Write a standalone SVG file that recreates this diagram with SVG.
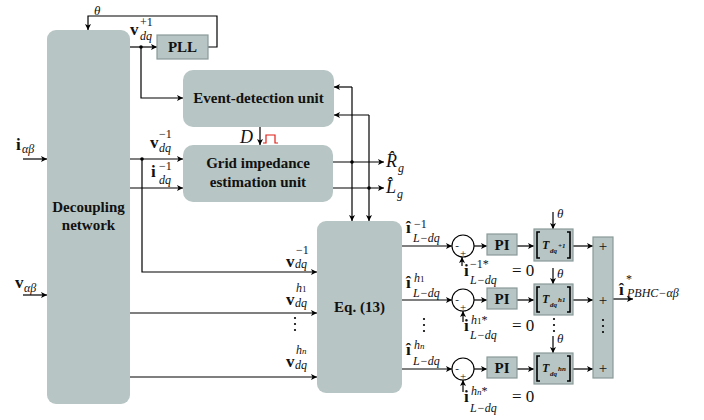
<svg xmlns="http://www.w3.org/2000/svg" width="704" height="420" viewBox="0 0 704 420">
<defs>
<marker id="ah" viewBox="0 0 10 10" refX="10" refY="5" markerWidth="8" markerHeight="6" markerUnits="userSpaceOnUse" orient="auto"><path d="M0,0 L10,5 L0,10 L2.5,5 z" fill="#000"/></marker>
<style>
text{font-family:"Liberation Serif","Times New Roman",serif;fill:#111}
.blk{font-weight:bold;font-size:15px;text-anchor:middle}
.rb{fill:#b7c5c4}
.sb{fill:#b7c5c4;stroke:#8a9a99;stroke-width:1.2}
.ln{fill:none;stroke:#000;stroke-width:1.2}
.ar{marker-end:url(#ah)}
.mv{font-weight:bold;font-size:17px}
.sc{font-style:italic;font-size:12px}
.up{font-style:normal}
.th{font-style:italic;font-size:13px}
.big{font-style:italic;font-size:18px}
.tt{font-style:italic;font-weight:bold;font-size:12px}
.ts{font-style:italic;font-weight:bold;font-size:7px}
.pm{font-size:15px;text-anchor:middle}
.cs{font-size:11px;text-anchor:middle}
.eq{font-size:17px}
</style>
</defs>
<rect width="704" height="420" fill="#fff"/>

<g id="connectors">
<path class="ln ar" d="M130,47 H157"/>
<path class="ln ar" d="M141,47 V98 H183"/>
<path class="ln ar" d="M208,47 H217 V16 H88 V30"/>
<path class="ln ar" d="M130,159 H183"/>
<path class="ln ar" d="M130,188 H183"/>
<path class="ln ar" d="M142,159 V272 H317"/>
<path class="ln ar" d="M130,313 H317"/>
<path class="ln ar" d="M130,377 H317"/>
<path class="ln ar" d="M23,159 H47"/>
<path class="ln ar" d="M23,295 H47"/>
<path class="ln ar" d="M333,162 H384"/>
<path class="ln ar" d="M333,188 H384"/>
<path class="ln ar" d="M352,87 V221"/>
<path class="ln ar" d="M352,87 H334"/>
<path class="ln ar" d="M369,115 V221"/>
<path class="ln ar" d="M369,115 H334"/>
<path class="ln ar" d="M260,127 V145"/>
<path d="M263,143 H266 V135 H275 V143 H278" fill="none" stroke="#e0201a" stroke-width="1.2"/>
<path class="ln ar" d="M402,246 H452"/>
<path class="ln ar" d="M474,246 H487"/>
<path class="ln ar" d="M517,246 H534"/>
<path class="ln ar" d="M573,246 H593"/>
<path class="ln ar" d="M462,266 V257"/>
<path class="ln ar" d="M553,212 V229"/>
<path class="ln ar" d="M402,300 H452"/>
<path class="ln ar" d="M474,300 H487"/>
<path class="ln ar" d="M517,300 H534"/>
<path class="ln ar" d="M573,300 H593"/>
<path class="ln ar" d="M463,322 V311"/>
<path class="ln ar" d="M553,268 V284"/>
<path class="ln ar" d="M402,369 H452"/>
<path class="ln ar" d="M474,369 H487"/>
<path class="ln ar" d="M517,369 H534"/>
<path class="ln ar" d="M573,369 H593"/>
<path class="ln ar" d="M463,392 V380"/>
<path class="ln ar" d="M553,336 V353"/>
<path class="ln ar" d="M613,299 H633"/>
<g fill="#000">
<circle cx="141" cy="47" r="1.8"/>
<circle cx="142" cy="159" r="1.8"/>
<circle cx="352" cy="162" r="1.8"/>
<circle cx="369" cy="188" r="1.8"/>
<circle cx="295" cy="318" r="1.1"/><circle cx="295" cy="324" r="1.1"/><circle cx="295" cy="330" r="1.1"/>
<circle cx="424" cy="319" r="1.1"/><circle cx="424" cy="325" r="1.1"/><circle cx="424" cy="331" r="1.1"/>
<circle cx="554" cy="319" r="1.1"/><circle cx="554" cy="325" r="1.1"/><circle cx="554" cy="331" r="1.1"/>
</g>
</g>

<g id="decoupling">
<rect class="rb" x="47" y="30" width="83" height="374" rx="9"/>
<text class="blk" x="88.5" y="212">Decoupling</text>
<text class="blk" x="88.5" y="230">network</text>
</g>

<g id="pll">
<rect class="sb" x="157" y="35" width="51" height="24"/>
<text class="blk" x="182.5" y="52">PLL</text>
</g>

<g id="event">
<rect class="rb" x="183" y="70" width="151" height="57" rx="10"/>
<text class="blk" x="258.5" y="103">Event-detection unit</text>
</g>

<g id="grid">
<rect class="rb" x="183" y="145" width="150" height="57" rx="10"/>
<text class="blk" x="258" y="168">Grid impedance</text>
<text class="blk" x="258" y="187">estimation unit</text>
</g>

<g id="eq13">
<rect class="rb" x="317" y="221" width="85" height="172" rx="9"/>
<text class="blk" x="359.5" y="312">Eq. (13)</text>
</g>

<g id="sum1"><circle cx="463" cy="246" r="11" fill="#fff" stroke="#000" stroke-width="1.1"/><text class="cs" x="457" y="249">-</text><text class="cs" x="463" y="257">+</text></g>
<g id="sum2"><circle cx="463" cy="300" r="11" fill="#fff" stroke="#000" stroke-width="1.1"/><text class="cs" x="457" y="303">-</text><text class="cs" x="463" y="311">+</text></g>
<g id="sum3"><circle cx="463" cy="369" r="11" fill="#fff" stroke="#000" stroke-width="1.1"/><text class="cs" x="457" y="372">-</text><text class="cs" x="463" y="380">+</text></g>

<g id="pi1"><rect class="sb" x="487" y="234" width="30" height="21"/><text class="blk" x="502" y="250">PI</text></g>
<g id="pi2"><rect class="sb" x="487" y="288" width="30" height="21"/><text class="blk" x="502" y="304">PI</text></g>
<g id="pi3"><rect class="sb" x="487" y="357" width="30" height="21"/><text class="blk" x="502" y="373">PI</text></g>

<g id="t1">
<rect class="sb" x="534" y="229" width="39" height="32"/>
<path d="M540,232 H537 V258 H540 M567,232 H570 V258 H567" fill="none" stroke="#000" stroke-width="1.6"/>
<text x="542" y="249"><tspan class="tt">T</tspan><tspan class="ts" x="550" y="253">dq</tspan><tspan class="ts" x="558" y="248">+1</tspan></text>
</g>
<g id="t2">
<rect class="sb" x="534" y="284" width="39" height="31"/>
<path d="M540,287 H537 V312 H540 M567,287 H570 V312 H567" fill="none" stroke="#000" stroke-width="1.6"/>
<text x="542" y="303"><tspan class="tt">T</tspan><tspan class="ts" x="550" y="307">dq</tspan><tspan class="ts" x="558" y="302">h1</tspan></text>
</g>
<g id="t3">
<rect class="sb" x="534" y="353" width="39" height="31"/>
<path d="M540,356 H537 V381 H540 M567,356 H570 V381 H567" fill="none" stroke="#000" stroke-width="1.6"/>
<text x="542" y="372"><tspan class="tt">T</tspan><tspan class="ts" x="550" y="376">dq</tspan><tspan class="ts" x="558" y="371">hn</tspan></text>
</g>

<g id="sumbar">
<rect class="sb" x="593" y="237" width="20" height="141"/>
<text class="pm" x="603" y="251">+</text>
<text class="pm" x="603" y="305">+</text>
<text class="pm" x="603" y="373">+</text>
<g fill="#000"><circle cx="603" cy="320" r="1.1"/><circle cx="603" cy="326" r="1.1"/><circle cx="603" cy="332" r="1.1"/></g>
</g>

<g id="labels">
<text class="th" x="94" y="15">θ</text>
<text x="130" y="35"><tspan class="mv">v</tspan><tspan class="sc up" x="140" y="26">+1</tspan><tspan class="sc" x="140" y="40">dq</tspan></text>
<text x="16" y="150"><tspan class="mv">i</tspan><tspan class="sc" x="22" y="153">αβ</tspan></text>
<text x="15" y="288"><tspan class="mv">v</tspan><tspan class="sc" x="24" y="292">αβ</tspan></text>
<text x="150" y="148"><tspan class="mv">v</tspan><tspan class="sc up" x="159" y="138">−1</tspan><tspan class="sc" x="159" y="152">dq</tspan></text>
<text x="151" y="177"><tspan class="mv">i</tspan><tspan class="sc up" x="159" y="170">−1</tspan><tspan class="sc" x="159" y="184">dq</tspan></text>
<text class="big" x="240" y="143">D</text>
<text x="386" y="167"><tspan class="big">R̂</tspan><tspan class="sc" x="398" y="172">g</tspan></text>
<text x="386" y="193"><tspan class="big">L̂</tspan><tspan class="sc" x="397" y="198">g</tspan></text>
<text x="286" y="267"><tspan class="mv">v</tspan><tspan class="sc up" x="296" y="254">−1</tspan><tspan class="sc" x="295" y="268">dq</tspan></text>
<text x="286" y="305"><tspan class="mv">v</tspan><tspan class="sc" x="296" y="292">h<tspan class="up" style="font-size:9px">1</tspan></tspan><tspan class="sc" x="295" y="307">dq</tspan></text>
<text x="286" y="367"><tspan class="mv">v</tspan><tspan class="sc" x="296" y="354">h<tspan style="font-size:9px">n</tspan></tspan><tspan class="sc" x="295" y="369">dq</tspan></text>
<text x="406" y="233"><tspan class="mv">î</tspan><tspan class="sc up" x="414" y="228">−1</tspan><tspan class="sc" x="413" y="242">L−dq</tspan></text>
<text x="406" y="288"><tspan class="mv">î</tspan><tspan class="sc" x="414" y="282">h<tspan class="up" style="font-size:9px">1</tspan></tspan><tspan class="sc" x="413" y="297">L−dq</tspan></text>
<text x="406" y="355"><tspan class="mv">î</tspan><tspan class="sc" x="414" y="349">h<tspan style="font-size:9px">n</tspan></tspan><tspan class="sc" x="413" y="365">L−dq</tspan></text>
<text x="464" y="276"><tspan class="mv">i</tspan><tspan class="sc up" x="470" y="268">−1*</tspan><tspan class="sc" x="470" y="284">L−dq</tspan><tspan class="eq" x="512" y="276">= 0</tspan></text>
<text x="464" y="331"><tspan class="mv">i</tspan><tspan class="sc" x="471" y="324">h<tspan class="up" style="font-size:9px">1</tspan><tspan class="up">*</tspan></tspan><tspan class="sc" x="470" y="339">L−dq</tspan><tspan class="eq" x="512" y="331">= 0</tspan></text>
<text x="464" y="402"><tspan class="mv">i</tspan><tspan class="sc" x="471" y="395">h<tspan style="font-size:9px">n</tspan><tspan class="up">*</tspan></tspan><tspan class="sc" x="470" y="412">L−dq</tspan><tspan class="eq" x="512" y="402">= 0</tspan></text>
<text class="th" x="557" y="218">θ</text>
<text class="th" x="557" y="278">θ</text>
<text class="th" x="557" y="343">θ</text>
<text x="619" y="295"><tspan class="mv">î</tspan><tspan class="sc up" x="626" y="283">*</tspan><tspan class="sc" x="627" y="297">PBHC−αβ</tspan></text>
</g>
</svg>
